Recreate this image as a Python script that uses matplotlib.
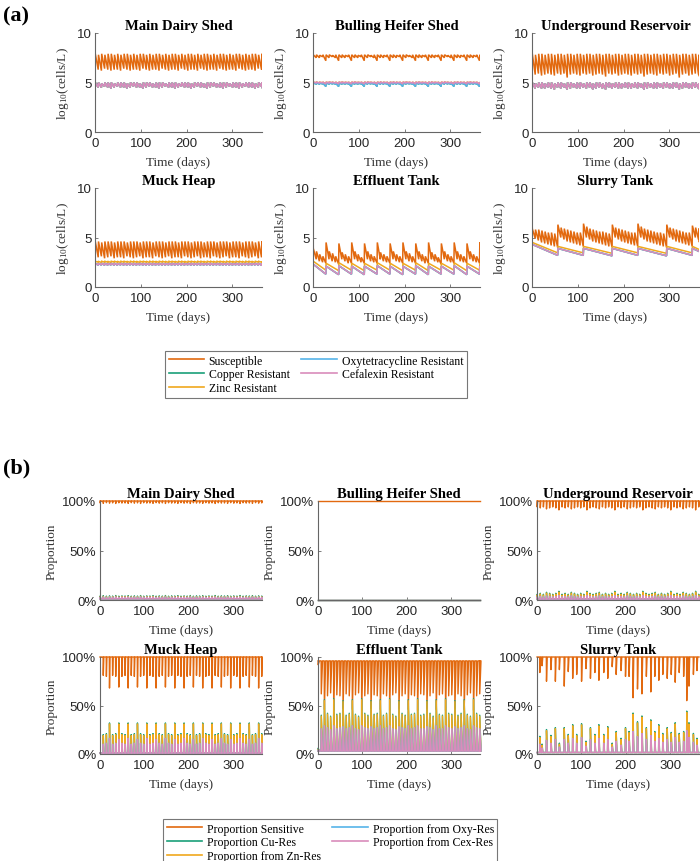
import numpy as np
import matplotlib
matplotlib.use("Agg")
import matplotlib.pyplot as plt
from matplotlib.lines import Line2D

plt.rcParams['mathtext.fontset'] = 'custom'
plt.rcParams['mathtext.rm'] = 'Liberation Serif'
plt.rcParams['mathtext.it'] = 'Liberation Serif:italic'
plt.rcParams['mathtext.bf'] = 'Liberation Serif:bold'

SERIF = 'Liberation Serif'
SANS = 'Liberation Sans'

# ---------------------------------------------------------------- data
SITES = ["Main Dairy Shed", "Bulling Heifer Shed", "Underground Reservoir",
         "Muck Heap", "Effluent Tank", "Slurry Tank"]
SERIES_A = ["Susceptible", "Copper Resistant", "Zinc Resistant",
            "Oxytetracycline Resistant", "Cefalexin Resistant"]
SERIES_B = ["Proportion Sensitive", "Proportion Cu-Res", "Proportion from Zn-Res",
            "Proportion from Oxy-Res", "Proportion from Cex-Res"]
X_TICKS = [0, 100, 200, 300]
Y_TICKS_A = [0, 5, 10]
Y_TICKS_B = [0, 50, 100]
Y_TICKLABELS_B = ["0%", "50%", "100%"]

T_WEEK = list(range(0, 365, 7))          # weekly event days (53)
T_28 = list(range(0, 365, 28))           # 4-weekly event days (14)
ST_R_DAYS = [0, 56, 112, 175, 231, 294, 350]

# ---- (a) log10 cells/L : start value, peak after each event, trough before next event
MDS_S_START = 7.6
MDS_S_PEAK = [7.9, 7.8, 7.9, 7.8, 7.9, 7.9, 7.8, 7.9, 7.8, 7.9,
              7.9, 7.8, 7.9, 7.8, 7.9, 7.9, 7.8, 7.9, 7.8, 7.9,
              7.9, 7.8, 7.9, 7.8, 7.9, 7.9, 7.8, 7.9, 7.8, 7.9,
              7.9, 7.8, 7.9, 7.8, 7.9, 7.9, 7.8, 7.9, 7.8, 7.9,
              7.9, 7.8, 7.9, 7.8, 7.9, 7.9, 7.8, 7.9, 7.8, 7.9,
              7.9, 7.8, 7.9]
MDS_S_TROUGH = [6.3, 6.2, 6.4, 6.3, 6.2, 6.3, 6.3, 6.2, 6.4, 6.3,
                6.2, 6.3, 6.3, 6.2, 6.4, 6.3, 6.2, 6.3, 6.3, 6.2,
                6.4, 6.3, 6.2, 6.3, 6.3, 6.2, 6.4, 6.3, 6.2, 6.3,
                6.3, 6.2, 6.4, 6.3, 6.2, 6.3, 6.3, 6.2, 6.4, 6.3,
                6.2, 6.3, 6.3, 6.2, 6.4, 6.3, 6.2, 6.3, 6.3, 6.2,
                6.4, 6.3, 6.4]
MDS_R_START = 5.0
MDS_R_PEAK = [5.0, 5.0, 4.9, 5.0, 5.0, 5.0, 4.9, 5.0, 5.0, 5.0,
              4.9, 5.0, 5.0, 5.0, 4.9, 5.0, 5.0, 5.0, 4.9, 5.0,
              5.0, 5.0, 4.9, 5.0, 5.0, 5.0, 4.9, 5.0, 5.0, 5.0,
              4.9, 5.0, 5.0, 5.0, 4.9, 5.0, 5.0, 5.0, 4.9, 5.0,
              5.0, 5.0, 4.9, 5.0, 5.0, 5.0, 4.9, 5.0, 5.0, 5.0,
              4.9, 5.0, 5.0]
MDS_R_TROUGH = [4.5, 4.5, 4.6, 4.5, 4.4, 4.5, 4.6, 4.5, 4.5, 4.4,
                4.5, 4.6, 4.5, 4.5, 4.4, 4.5, 4.6, 4.5, 4.5, 4.4,
                4.5, 4.6, 4.5, 4.5, 4.4, 4.5, 4.6, 4.5, 4.5, 4.4,
                4.5, 4.6, 4.5, 4.5, 4.4, 4.5, 4.6, 4.5, 4.5, 4.4,
                4.5, 4.6, 4.5, 4.5, 4.4, 4.5, 4.6, 4.5, 4.5, 4.4,
                4.5, 4.6, 4.5]

BHS_S_START = 7.8
BHS_S_PEAK = [7.8, 7.8, 7.75, 7.8, 7.8, 7.8, 7.75, 7.8, 7.8, 7.8,
              7.75, 7.8, 7.8, 7.8, 7.75, 7.8, 7.8, 7.8, 7.75, 7.8,
              7.8, 7.8, 7.75, 7.8, 7.8, 7.8, 7.75, 7.8, 7.8, 7.8,
              7.75, 7.8, 7.8, 7.8, 7.75, 7.8, 7.8, 7.8, 7.75, 7.8,
              7.8, 7.8, 7.75, 7.8, 7.8, 7.8, 7.75, 7.8, 7.8, 7.8,
              7.75, 7.8, 7.8]
BHS_S_TROUGH = [7.5, 7.5, 7.6, 7.2, 7.5, 7.6, 7.5, 7.2, 7.5, 7.5,
                7.6, 7.2, 7.5, 7.5, 7.6, 7.2, 7.5, 7.6, 7.5, 7.2,
                7.5, 7.5, 7.6, 7.2, 7.5, 7.5, 7.6, 7.2, 7.5, 7.6,
                7.5, 7.2, 7.5, 7.5, 7.6, 7.2, 7.5, 7.5, 7.6, 7.2,
                7.5, 7.6, 7.5, 7.2, 7.5, 7.5, 7.6, 7.2, 7.5, 7.5,
                7.6, 7.2, 7.5]
BHS_RU_START = 5.05
BHS_RU_PEAK = [5.05, 5.05, 5.03, 5.05, 5.05, 5.05, 5.03, 5.05, 5.05, 5.05,
               5.03, 5.05, 5.05, 5.05, 5.03, 5.05, 5.05, 5.05, 5.03, 5.05,
               5.05, 5.05, 5.03, 5.05, 5.05, 5.05, 5.03, 5.05, 5.05, 5.05,
               5.03, 5.05, 5.05, 5.05, 5.03, 5.05, 5.05, 5.05, 5.03, 5.05,
               5.05, 5.05, 5.03, 5.05, 5.05, 5.05, 5.03, 5.05, 5.05, 5.05,
               5.03, 5.05, 5.05]
BHS_RU_TROUGH = [4.95, 4.95, 4.97, 4.85, 4.95, 4.97, 4.95, 4.85, 4.95, 4.95,
                 4.97, 4.85, 4.95, 4.95, 4.97, 4.85, 4.95, 4.97, 4.95, 4.85,
                 4.95, 4.95, 4.97, 4.85, 4.95, 4.95, 4.97, 4.85, 4.95, 4.97,
                 4.95, 4.85, 4.95, 4.95, 4.97, 4.85, 4.95, 4.95, 4.97, 4.85,
                 4.95, 4.97, 4.95, 4.85, 4.95, 4.95, 4.97, 4.85, 4.95, 4.95,
                 4.97, 4.85, 4.95]
BHS_RL_START = 4.95
BHS_RL_PEAK = [4.95, 4.95, 4.93, 4.95, 4.95, 4.95, 4.93, 4.95, 4.95, 4.95,
               4.93, 4.95, 4.95, 4.95, 4.93, 4.95, 4.95, 4.95, 4.93, 4.95,
               4.95, 4.95, 4.93, 4.95, 4.95, 4.95, 4.93, 4.95, 4.95, 4.95,
               4.93, 4.95, 4.95, 4.95, 4.93, 4.95, 4.95, 4.95, 4.93, 4.95,
               4.95, 4.95, 4.93, 4.95, 4.95, 4.95, 4.93, 4.95, 4.95, 4.95,
               4.93, 4.95, 4.95]
BHS_RL_TROUGH = [4.85, 4.85, 4.87, 4.6, 4.85, 4.87, 4.85, 4.6, 4.85, 4.85,
                 4.87, 4.6, 4.85, 4.85, 4.87, 4.6, 4.85, 4.87, 4.85, 4.6,
                 4.85, 4.85, 4.87, 4.6, 4.85, 4.85, 4.87, 4.6, 4.85, 4.87,
                 4.85, 4.6, 4.85, 4.85, 4.87, 4.6, 4.85, 4.85, 4.87, 4.6,
                 4.85, 4.87, 4.85, 4.6, 4.85, 4.85, 4.87, 4.6, 4.85, 4.85,
                 4.87, 4.6, 4.85]

UR_S_START = 7.3
UR_S_PEAK = [7.9, 7.8, 7.9, 7.9, 7.8, 7.9, 7.9, 7.8, 7.9, 7.9,
             7.8, 7.9, 7.9, 7.8, 7.9, 7.9, 7.8, 7.9, 7.9, 7.8,
             7.9, 7.9, 7.8, 7.9, 7.9, 7.8, 7.9, 7.9, 7.8, 7.9,
             7.9, 7.8, 7.9, 7.9, 7.8, 7.9, 7.9, 7.8, 7.9, 7.9,
             7.8, 7.9, 7.9, 7.8, 7.9, 7.9, 7.8, 7.9, 7.9, 7.8,
             7.9, 7.9, 7.8]
UR_S_TROUGH = [5.8, 5.9, 5.7, 5.8, 5.9, 5.8, 5.7, 5.9, 5.8, 5.9,
               5.5, 5.8, 5.9, 5.8, 5.7, 5.9, 5.8, 5.9, 5.7, 5.8,
               5.9, 5.8, 5.6, 5.9, 5.8, 5.9, 5.7, 5.8, 5.9, 5.8,
               5.7, 5.9, 5.8, 5.9, 5.6, 5.8, 5.9, 5.8, 5.7, 5.9,
               5.8, 5.9, 5.7, 5.8, 5.9, 5.5, 5.8, 5.9, 5.7, 5.8,
               5.9, 5.8, 5.7]
UR_R_START = 4.9
UR_R_PEAK = [5.0, 4.9, 5.0, 5.0, 4.9, 5.0, 5.0, 4.9, 5.0, 5.0,
             4.9, 5.0, 5.0, 4.9, 5.0, 5.0, 4.9, 5.0, 5.0, 4.9,
             5.0, 5.0, 4.9, 5.0, 5.0, 4.9, 5.0, 5.0, 4.9, 5.0,
             5.0, 4.9, 5.0, 5.0, 4.9, 5.0, 5.0, 4.9, 5.0, 5.0,
             4.9, 5.0, 5.0, 4.9, 5.0, 5.0, 4.9, 5.0, 5.0, 4.9,
             5.0, 5.0, 4.9]
UR_R_TROUGH = [4.4, 4.5, 4.4, 4.4, 4.5, 4.4, 4.3, 4.5, 4.4, 4.5,
               4.3, 4.4, 4.5, 4.4, 4.4, 4.5, 4.4, 4.5, 4.3, 4.4,
               4.5, 4.4, 4.3, 4.5, 4.4, 4.5, 4.4, 4.4, 4.5, 4.4,
               4.4, 4.5, 4.4, 4.5, 4.3, 4.4, 4.5, 4.4, 4.4, 4.5,
               4.4, 4.5, 4.4, 4.4, 4.5, 4.3, 4.4, 4.5, 4.4, 4.4,
               4.5, 4.4, 4.4]

MH_S_START = 5.0
MH_S_PEAK = [4.6, 4.6, 4.5, 4.6, 4.6, 4.6, 4.5, 4.6, 4.6, 4.6,
             4.5, 4.6, 4.6, 4.6, 4.5, 4.6, 4.6, 4.6, 4.5, 4.6,
             4.6, 4.6, 4.5, 4.6, 4.6, 4.6, 4.5, 4.6, 4.6, 4.6,
             4.5, 4.6, 4.6, 4.6, 4.5, 4.6, 4.6, 4.6, 4.5, 4.6,
             4.6, 4.6, 4.5, 4.6, 4.6, 4.6, 4.5, 4.6, 4.6, 4.6,
             4.5, 4.6, 4.6]
MH_S_TROUGH = [3.0, 3.1, 2.9, 3.0, 3.1, 2.9, 3.0, 3.0, 2.9, 3.1,
               3.0, 2.9, 3.0, 3.1, 2.9, 3.0, 3.0, 2.9, 3.1, 3.0,
               2.9, 3.0, 3.1, 2.9, 3.0, 3.0, 2.9, 3.1, 3.0, 2.9,
               3.0, 3.1, 2.9, 3.0, 3.0, 2.9, 3.1, 3.0, 2.9, 3.0,
               3.1, 2.9, 3.0, 3.0, 2.9, 3.1, 3.0, 2.9, 3.0, 3.1,
               2.9, 3.0, 3.1]
MH_ZN_START = 2.6
MH_ZN_PEAK = [2.6, 2.58, 2.6, 2.6, 2.58, 2.6, 2.6, 2.58, 2.6, 2.6,
              2.58, 2.6, 2.6, 2.58, 2.6, 2.6, 2.58, 2.6, 2.6, 2.58,
              2.6, 2.6, 2.58, 2.6, 2.6, 2.58, 2.6, 2.6, 2.58, 2.6,
              2.6, 2.58, 2.6, 2.6, 2.58, 2.6, 2.6, 2.58, 2.6, 2.6,
              2.58, 2.6, 2.6, 2.58, 2.6, 2.6, 2.58, 2.6, 2.6, 2.58,
              2.6, 2.6, 2.58]
MH_ZN_TROUGH = [2.5, 2.48, 2.5, 2.5, 2.48, 2.5, 2.5, 2.48, 2.5, 2.5,
                2.48, 2.5, 2.5, 2.48, 2.5, 2.5, 2.48, 2.5, 2.5, 2.48,
                2.5, 2.5, 2.48, 2.5, 2.5, 2.48, 2.5, 2.5, 2.48, 2.5,
                2.5, 2.48, 2.5, 2.5, 2.48, 2.5, 2.5, 2.48, 2.5, 2.5,
                2.48, 2.5, 2.5, 2.48, 2.5, 2.5, 2.48, 2.5, 2.5, 2.48,
                2.5, 2.5, 2.48]
MH_R_START = 2.4
MH_R_PEAK = [2.4, 2.38, 2.4, 2.4, 2.38, 2.4, 2.4, 2.38, 2.4, 2.4,
             2.38, 2.4, 2.4, 2.38, 2.4, 2.4, 2.38, 2.4, 2.4, 2.38,
             2.4, 2.4, 2.38, 2.4, 2.4, 2.38, 2.4, 2.4, 2.38, 2.4,
             2.4, 2.38, 2.4, 2.4, 2.38, 2.4, 2.4, 2.38, 2.4, 2.4,
             2.38, 2.4, 2.4, 2.38, 2.4, 2.4, 2.38, 2.4, 2.4, 2.38,
             2.4, 2.4, 2.38]
MH_R_TROUGH = [2.2, 2.22, 2.2, 2.2, 2.22, 2.2, 2.2, 2.22, 2.2, 2.2,
               2.22, 2.2, 2.2, 2.22, 2.2, 2.2, 2.22, 2.2, 2.2, 2.22,
               2.2, 2.2, 2.22, 2.2, 2.2, 2.22, 2.2, 2.2, 2.22, 2.2,
               2.2, 2.22, 2.2, 2.2, 2.22, 2.2, 2.2, 2.22, 2.2, 2.2,
               2.22, 2.2, 2.2, 2.22, 2.2, 2.2, 2.22, 2.2, 2.2, 2.22,
               2.2, 2.2, 2.22]

ET_S_START = 6.5
ET_S_PEAK = [3.9, 3.6, 3.3, 3.1, 4.5, 3.6, 3.4, 3.1, 4.4, 3.5,
             3.3, 3.1, 4.5, 3.6, 3.3, 3.0, 4.4, 3.6, 3.3, 3.1,
             4.5, 3.5, 3.3, 3.1, 4.4, 3.6, 3.3, 3.1, 4.5, 3.6,
             3.4, 3.1, 4.4, 3.6, 3.3, 3.1, 4.5, 3.5, 3.3, 3.0,
             4.4, 3.6, 3.3, 3.1, 4.5, 3.6, 3.3, 3.1, 4.4, 3.6,
             3.3, 3.1, 4.5]
ET_S_TROUGH = [2.8, 2.6, 2.5, 2.4, 2.8, 2.6, 2.5, 2.3, 2.8, 2.6,
               2.4, 2.4, 2.8, 2.6, 2.5, 2.4, 2.8, 2.6, 2.5, 2.4,
               2.8, 2.6, 2.5, 2.4, 2.8, 2.6, 2.5, 2.4, 2.8, 2.6,
               2.5, 2.4, 2.8, 2.6, 2.4, 2.4, 2.8, 2.6, 2.5, 2.3,
               2.8, 2.6, 2.5, 2.4, 2.8, 2.6, 2.5, 2.4, 2.8, 2.6,
               2.5, 2.4, 2.8]
ET_ZN_START = 2.9
ET_ZN_PEAK = [2.6, 2.4, 2.45, 2.4, 2.4, 2.45, 2.4, 2.4, 2.45, 2.4, 2.4, 2.45, 2.4, 2.4]
ET_ZN_TROUGH = [1.7, 1.65, 1.7, 1.65, 1.7, 1.7, 1.65, 1.7, 1.65, 1.7, 1.7, 1.65, 1.7, 2.3]
ET_R_START = 4.0
ET_R_PEAK = [2.3, 2.1, 2.15, 2.1, 2.1, 2.15, 2.1, 2.1, 2.15, 2.1, 2.1, 2.15, 2.1, 2.1]
ET_R_TROUGH = [1.3, 1.25, 1.3, 1.25, 1.3, 1.3, 1.25, 1.3, 1.25, 1.3, 1.3, 1.25, 1.3, 2.0]

ST_S_START = 7.2
ST_S_PEAK = [5.9, 5.8, 5.8, 5.7, 5.6, 5.5, 5.5, 5.4,
             6.3, 6.0, 5.9, 5.8, 5.7, 5.6, 5.5, 5.5,
             6.4, 6.1, 5.9, 5.8, 5.7, 5.6, 5.6, 5.5, 5.4,
             6.3, 6.0, 5.9, 5.8, 5.7, 5.6, 5.5, 5.5,
             6.4, 6.1, 5.9, 5.8, 5.7, 5.6, 5.5, 5.5, 5.4,
             6.3, 6.0, 5.9, 5.8, 5.7, 5.6, 5.5, 5.5,
             6.2, 6.0, 5.9]
ST_S_TROUGH = [4.9, 4.7, 4.5, 4.4, 4.3, 4.2, 4.1, 4.0,
               5.0, 4.8, 4.6, 4.5, 4.4, 4.3, 4.2, 4.1,
               5.0, 4.8, 4.6, 4.5, 4.4, 4.3, 4.2, 4.1, 4.0,
               5.0, 4.8, 4.6, 4.5, 4.4, 4.3, 4.2, 4.1,
               5.0, 4.8, 4.6, 4.5, 4.4, 4.3, 4.2, 4.1, 4.0,
               5.0, 4.8, 4.6, 4.5, 4.4, 4.3, 4.2, 4.1,
               5.0, 4.8, 4.6]
ST_ZN_START = 4.7
ST_ZN_PEAK = [4.5, 4.1, 4.1, 4.1, 4.1, 4.1, 4.1]
ST_ZN_TROUGH = [3.45, 3.45, 3.4, 3.45, 3.4, 3.45, 3.8]
ST_R_START = 4.6
ST_R_PEAK = [4.3, 3.9, 3.9, 3.9, 3.9, 3.9, 3.9]
ST_R_TROUGH = [3.2, 3.2, 3.15, 3.2, 3.15, 3.2, 3.6]

# ---- (b) proportions (%) : baseline and extreme value at each event
MDS_PS_BASE = 100.0
MDS_PR_BASE = 1.2
MDS_PS_EXT = [98.0, 97.6, 98.3, 97.8, 98.1, 97.5, 98.2, 97.9, 98.0, 97.6,
              98.3, 97.8, 98.1, 97.5, 98.2, 97.9, 98.0, 97.6, 98.3, 97.8,
              98.1, 97.5, 98.2, 97.9, 98.0, 97.6, 98.3, 97.8, 98.1, 97.5,
              98.2, 97.9, 98.0, 97.6, 98.3, 97.8, 98.1, 97.5, 98.2, 97.9,
              98.0, 97.6, 98.3, 97.8, 98.1, 97.5, 98.2, 97.9, 98.0, 97.6,
              98.3, 97.8, 98.1]
MDS_PZN_EXT = [3.4, 3.7, 3.2, 3.5, 3.3, 3.8, 3.2, 3.5, 3.4, 3.7,
               3.2, 3.5, 3.3, 3.8, 3.2, 3.5, 3.4, 3.7, 3.2, 3.5,
               3.3, 3.8, 3.2, 3.5, 3.4, 3.7, 3.2, 3.5, 3.3, 3.8,
               3.2, 3.5, 3.4, 3.7, 3.2, 3.5, 3.3, 3.8, 3.2, 3.5,
               3.4, 3.7, 3.2, 3.5, 3.3, 3.8, 3.2, 3.5, 3.4, 3.7,
               3.2, 3.5, 3.3]
MDS_PCU_EXT = [4.1, 4.4, 3.9, 4.2, 4.0, 4.5, 3.9, 4.2, 4.1, 4.4,
               3.9, 4.2, 4.0, 4.5, 3.9, 4.2, 4.1, 4.4, 3.9, 4.2,
               4.0, 4.5, 3.9, 4.2, 4.1, 4.4, 3.9, 4.2, 4.0, 4.5,
               3.9, 4.2, 4.1, 4.4, 3.9, 4.2, 4.0, 4.5, 3.9, 4.2,
               4.1, 4.4, 3.9, 4.2, 4.0, 4.5, 3.9, 4.2, 4.1, 4.4,
               3.9, 4.2, 4.0]
MDS_PCEX_EXT = [2.7, 2.9, 2.6, 2.8, 2.7, 3.0, 2.6, 2.8, 2.7, 2.9,
                2.6, 2.8, 2.7, 3.0, 2.6, 2.8, 2.7, 2.9, 2.6, 2.8,
                2.7, 3.0, 2.6, 2.8, 2.7, 2.9, 2.6, 2.8, 2.7, 3.0,
                2.6, 2.8, 2.7, 2.9, 2.6, 2.8, 2.7, 3.0, 2.6, 2.8,
                2.7, 2.9, 2.6, 2.8, 2.7, 3.0, 2.6, 2.8, 2.7, 2.9,
                2.6, 2.8, 2.7]

BHS_P_DAYS = [0, 365]
BHS_PS = [99.8, 99.8]
BHS_PR = [0.3, 0.3]

UR_PS_BASE = 100.0
UR_PR_BASE = 1.0
UR_PS_EXT = [94, 93, 94, 92, 93, 94, 93, 91, 94, 93,
             94, 92, 93, 94, 93, 94, 91, 93, 94, 93,
             92, 94, 93, 94, 93, 91, 94, 93, 94, 92,
             93, 94, 93, 94, 91, 93, 94, 93, 92, 94,
             93, 94, 93, 91, 94, 93, 94, 92, 93, 94,
             93, 91, 94]
UR_PZN_EXT = [5.0, 6.0, 5.0, 7.0, 6.0, 5.0, 6.0, 8.0, 5.0, 6.0,
              5.0, 7.0, 6.0, 5.0, 6.0, 5.0, 8.0, 6.0, 5.0, 6.0,
              7.0, 5.0, 6.0, 5.0, 6.0, 8.0, 5.0, 6.0, 5.0, 7.0,
              6.0, 5.0, 6.0, 5.0, 8.0, 6.0, 5.0, 6.0, 7.0, 5.0,
              6.0, 5.0, 6.0, 8.0, 5.0, 6.0, 5.0, 7.0, 6.0, 5.0,
              6.0, 8.0, 5.0]
UR_PCU_EXT = [5.8, 6.8, 5.8, 7.8, 6.8, 5.8, 6.8, 8.8, 5.8, 6.8,
              5.8, 7.8, 6.8, 5.8, 6.8, 5.8, 8.8, 6.8, 5.8, 6.8,
              7.8, 5.8, 6.8, 5.8, 6.8, 8.8, 5.8, 6.8, 5.8, 7.8,
              6.8, 5.8, 6.8, 5.8, 8.8, 6.8, 5.8, 6.8, 7.8, 5.8,
              6.8, 5.8, 6.8, 8.8, 5.8, 6.8, 5.8, 7.8, 6.8, 5.8,
              6.8, 8.8, 5.8]
UR_PCEX_EXT = [3.2, 3.6, 3.2, 4.0, 3.6, 3.2, 3.6, 4.4, 3.2, 3.6,
               3.2, 4.0, 3.6, 3.2, 3.6, 3.2, 4.4, 3.6, 3.2, 3.6,
               4.0, 3.2, 3.6, 3.2, 3.6, 4.4, 3.2, 3.6, 3.2, 4.0,
               3.6, 3.2, 3.6, 3.2, 4.4, 3.6, 3.2, 3.6, 4.0, 3.2,
               3.6, 3.2, 3.6, 4.4, 3.2, 3.6, 3.2, 4.0, 3.6, 3.2,
               3.6, 4.4, 3.2]

MH_PS_BASE = 100.0
MH_PR_BASE = 1.0
MH_PS_EXT = [100, 81, 80, 68, 81, 80, 69, 80, 81, 68,
             81, 80, 69, 80, 81, 68, 81, 80, 68, 80,
             81, 69, 80, 81, 68, 81, 80, 68, 80, 81,
             69, 81, 80, 68, 80, 81, 68, 81, 80, 69,
             80, 81, 68, 81, 80, 68, 80, 81, 69, 81,
             80, 68, 80]
MH_PZN_EXT = [1, 19, 20, 31, 19, 20, 31, 20, 19, 31,
              19, 20, 31, 20, 19, 31, 19, 20, 31, 20,
              19, 31, 20, 19, 31, 19, 20, 31, 20, 19,
              31, 19, 20, 31, 20, 19, 31, 19, 20, 31,
              20, 19, 31, 19, 20, 31, 20, 19, 31, 19,
              20, 31, 20]
MH_PCU_EXT = [1, 20, 21, 32, 20, 21, 32, 21, 20, 32,
              20, 21, 32, 21, 20, 32, 20, 21, 32, 21,
              20, 32, 21, 20, 32, 20, 21, 32, 21, 20,
              32, 20, 21, 32, 21, 20, 32, 20, 21, 32,
              21, 20, 32, 20, 21, 32, 21, 20, 32, 20,
              21, 32, 21]
MH_PCEX_EXT = [1, 10, 11, 16, 10, 11, 15, 11, 10, 16,
               10, 11, 15, 11, 10, 16, 10, 11, 15, 11,
               10, 16, 11, 10, 15, 10, 11, 16, 11, 10,
               15, 10, 11, 16, 11, 10, 15, 10, 11, 16,
               11, 10, 15, 10, 11, 16, 11, 10, 15, 10,
               11, 16, 11]

ET_PS_BASE = 96.0
ET_PR_BASE = 3.0
ET_PS_EXT = [92, 62, 46, 60, 63, 45, 61, 60, 47, 62,
             60, 46, 61, 63, 45, 60, 62, 47, 61, 60,
             46, 62, 60, 45, 61, 63, 47, 60, 62, 46,
             61, 60, 45, 62, 61, 47, 60, 63, 46, 61,
             62, 45, 60, 61, 47, 62, 60, 46, 61, 63,
             45, 60, 62]
ET_PZN_EXT = [5, 39, 55, 41, 38, 56, 40, 41, 54, 39,
              41, 55, 40, 38, 56, 41, 39, 54, 40, 41,
              55, 39, 41, 56, 40, 38, 54, 41, 39, 55,
              40, 41, 56, 39, 40, 54, 41, 38, 55, 40,
              39, 56, 41, 40, 54, 39, 41, 55, 40, 38,
              56, 41, 39]
ET_PCU_EXT = [6, 40, 56, 42, 39, 57, 41, 42, 55, 40,
              42, 56, 41, 39, 57, 42, 40, 55, 41, 42,
              56, 40, 42, 57, 41, 39, 55, 42, 40, 56,
              41, 42, 57, 40, 41, 55, 42, 39, 56, 41,
              40, 57, 42, 41, 55, 40, 42, 56, 41, 39,
              57, 42, 40]
ET_PCEX_EXT = [4, 26, 29, 27, 25, 29, 26, 27, 28, 26,
               27, 29, 26, 25, 29, 27, 26, 28, 26, 27,
               29, 26, 27, 29, 26, 25, 28, 27, 26, 29,
               26, 27, 29, 26, 26, 28, 27, 25, 29, 26,
               26, 29, 27, 26, 28, 26, 27, 29, 26, 25,
               29, 27, 26]

ST_PS_BASE = 100.0
ST_PR_BASE = 1.5
ST_P_DAYS = [6, 11, 21, 31, 41, 50, 61, 70, 80, 89,
             100, 110, 120, 130, 139, 150, 159, 169, 178, 189,
             199, 207, 216, 226, 236, 246, 256, 265, 274, 283,
             293, 302, 311, 320, 330, 337, 342, 352, 360]
ST_PS_EXT = [84, 91, 75, 87, 75, 87, 70, 85, 78, 82,
             75, 88, 78, 84, 76, 84, 78, 90, 82, 86,
             80, 80, 58, 67, 62, 80, 64, 80, 76, 82,
             78, 82, 74, 84, 80, 55, 70, 82, 86]
ST_PZN_EXT = [17, 9, 24, 18, 26, 10, 26, 19, 29, 19,
              30, 12, 26, 19, 29, 19, 27, 10, 22, 15,
              26, 22, 41, 32, 38, 26, 34, 22, 29, 20,
              26, 21, 31, 20, 22, 43, 31, 20, 15]
ST_PCU_EXT = [18.2, 10.2, 25.2, 19.2, 27.2, 11.2, 27.2, 20.2, 30.2, 20.2,
              31.2, 13.2, 27.2, 20.2, 30.2, 20.2, 28.2, 11.2, 23.2, 16.2,
              27.2, 23.2, 42.2, 33.2, 39.2, 27.2, 35.2, 23.2, 30.2, 21.2,
              27.2, 22.2, 32.2, 21.2, 23.2, 44.2, 32.2, 21.2, 16.2]
ST_PCEX_EXT = [10, 6, 14, 11, 15, 7, 15, 11, 16, 11,
               17, 8, 15, 11, 16, 11, 15, 7, 13, 9,
               15, 13, 23, 18, 21, 15, 19, 13, 16, 12,
               15, 12, 17, 12, 13, 24, 17, 12, 9]

COLORS = ['#E2690F', '#1AA079', '#F0A81E', '#56B4E9', '#D98CBB']


# ---------------------------------------------------------------- helpers
def sawtooth(days, start, peaks, troughs, end=365.0, rise=0.6):
    t, v = [days[0]], [start]
    n = min(len(days), len(peaks), len(troughs))
    for k in range(n):
        t.append(days[k] + rise); v.append(peaks[k])
        t.append(days[k + 1] if k + 1 < len(days) else end); v.append(troughs[k])
    return np.array(t), np.array(v)


def spikes(days, base, ext, up=0.4, down=1.6, end=365.0):
    t, v = [0.0], [base]
    for d, e in zip(days, ext):
        t += [d, d + up, d + down]
        v += [base, e, base]
    t.append(end); v.append(base)
    return np.array(t), np.array(v)


fig = plt.figure(figsize=(7.0, 8.62), dpi=100)


def add_ax(left, top, width, bottom):
    return fig.add_axes([left / 700, 1 - bottom / 862, width / 700, (bottom - top) / 862])


def style(ax, title, ylabel, yticks, yticklabels=None, ylim=(0, 10), ylabelpad=3):
    ax.set_xlim(0, 365)
    ax.set_ylim(*ylim)
    for s in ['top', 'right']:
        ax.spines[s].set_visible(False)
    for s in ['left', 'bottom']:
        ax.spines[s].set_color('#666666')
        ax.spines[s].set_linewidth(0.8)
    ax.set_xticks(X_TICKS)
    ax.set_yticks(yticks)
    if yticklabels is not None:
        ax.set_yticklabels(yticklabels)
    ax.tick_params(direction='in', length=2.5, width=0.6, colors='#666666',
                   labelcolor='#262626', labelsize=9.5)
    ax.tick_params(axis='x', pad=3.5)
    ax.tick_params(axis='y', pad=2.5)
    for lab in ax.get_xticklabels() + ax.get_yticklabels():
        lab.set_fontfamily(SANS)
    ax.set_title(title, fontfamily=SERIF, fontweight='bold', fontsize=10.5, pad=3)
    ax.set_xlabel('Time (days)', fontfamily=SERIF, fontsize=9.5, color='#333333', labelpad=5)
    ax.set_ylabel(ylabel, fontfamily=SERIF, fontsize=9.5, color='#333333', labelpad=ylabelpad)
    ax.patch.set_alpha(0)


# ---------------------------------------------------------------- panel (a)
A_LEFT = [95, 313, 532]
A_ROWS = [(34, 133), (189, 288)]
A_W = 167

mds_s = sawtooth(T_WEEK, MDS_S_START, MDS_S_PEAK, MDS_S_TROUGH)
mds_r = sawtooth(T_WEEK, MDS_R_START, MDS_R_PEAK, MDS_R_TROUGH)
bhs_s = sawtooth(T_WEEK, BHS_S_START, BHS_S_PEAK, BHS_S_TROUGH)
bhs_ru = sawtooth(T_WEEK, BHS_RU_START, BHS_RU_PEAK, BHS_RU_TROUGH)
bhs_rl = sawtooth(T_WEEK, BHS_RL_START, BHS_RL_PEAK, BHS_RL_TROUGH)
ur_s = sawtooth(T_WEEK, UR_S_START, UR_S_PEAK, UR_S_TROUGH)
ur_r = sawtooth(T_WEEK, UR_R_START, UR_R_PEAK, UR_R_TROUGH)
mh_s = sawtooth(T_WEEK, MH_S_START, MH_S_PEAK, MH_S_TROUGH)
mh_zn = sawtooth(T_WEEK, MH_ZN_START, MH_ZN_PEAK, MH_ZN_TROUGH)
mh_r = sawtooth(T_WEEK, MH_R_START, MH_R_PEAK, MH_R_TROUGH)
et_s = sawtooth(T_WEEK, ET_S_START, ET_S_PEAK, ET_S_TROUGH)
et_zn = sawtooth(T_28, ET_ZN_START, ET_ZN_PEAK, ET_ZN_TROUGH)
et_r = sawtooth(T_28, ET_R_START, ET_R_PEAK, ET_R_TROUGH)
st_s = sawtooth(T_WEEK, ST_S_START, ST_S_PEAK, ST_S_TROUGH)
st_zn = sawtooth(ST_R_DAYS, ST_ZN_START, ST_ZN_PEAK, ST_ZN_TROUGH)
st_r = sawtooth(ST_R_DAYS, ST_R_START, ST_R_PEAK, ST_R_TROUGH)

A_DATA = [
    [mds_s, mds_r, mds_r, mds_r, mds_r],
    [bhs_s, bhs_rl, bhs_ru, bhs_rl, bhs_ru],
    [ur_s, ur_r, ur_r, ur_r, ur_r],
    [mh_s, mh_r, mh_zn, mh_r, mh_r],
    [et_s, et_r, et_zn, et_r, et_r],
    [st_s, st_r, st_zn, st_r, st_r],
]

for i, site in enumerate(SITES):
    top, bot = A_ROWS[i // 3]
    ax = add_ax(A_LEFT[i % 3], top, A_W, bot)
    for (t, v), c in zip(A_DATA[i], COLORS):
        ax.plot(t, v, color=c, lw=1.1, solid_joinstyle='miter')
    style(ax, site, 'log$_{10}$(cells/L)', Y_TICKS_A, ylabelpad=4)

# ---------------------------------------------------------------- panel (b)
B_LEFT = [100, 318, 537]
B_ROWS = [(502, 601), (658, 755)]
B_W = 162

B_DATA = [
    [spikes(T_WEEK, MDS_PS_BASE, MDS_PS_EXT),
     spikes(T_WEEK, MDS_PR_BASE, MDS_PCU_EXT),
     spikes(T_WEEK, MDS_PR_BASE, MDS_PZN_EXT),
     spikes(T_WEEK, MDS_PR_BASE, MDS_PCEX_EXT),
     spikes(T_WEEK, MDS_PR_BASE, MDS_PCEX_EXT)],
    [(np.array(BHS_P_DAYS), np.array(BHS_PS)),
     (np.array(BHS_P_DAYS), np.array(BHS_PR)),
     (np.array(BHS_P_DAYS), np.array(BHS_PR)),
     (np.array(BHS_P_DAYS), np.array(BHS_PR)),
     (np.array(BHS_P_DAYS), np.array(BHS_PR))],
    [spikes(T_WEEK, UR_PS_BASE, UR_PS_EXT),
     spikes(T_WEEK, UR_PR_BASE, UR_PCU_EXT),
     spikes(T_WEEK, UR_PR_BASE, UR_PZN_EXT),
     spikes(T_WEEK, UR_PR_BASE, UR_PCEX_EXT),
     spikes(T_WEEK, UR_PR_BASE, UR_PCEX_EXT)],
    [spikes(T_WEEK, MH_PS_BASE, MH_PS_EXT),
     spikes(T_WEEK, MH_PR_BASE, MH_PCU_EXT),
     spikes(T_WEEK, MH_PR_BASE, MH_PZN_EXT),
     spikes(T_WEEK, MH_PR_BASE, MH_PCEX_EXT),
     spikes(T_WEEK, MH_PR_BASE, MH_PCEX_EXT)],
    [spikes(T_WEEK, ET_PS_BASE, ET_PS_EXT, down=3.2),
     spikes(T_WEEK, ET_PR_BASE, ET_PCU_EXT, down=3.2),
     spikes(T_WEEK, ET_PR_BASE, ET_PZN_EXT, down=3.2),
     spikes(T_WEEK, ET_PR_BASE, ET_PCEX_EXT, down=3.2),
     spikes(T_WEEK, ET_PR_BASE, ET_PCEX_EXT, down=3.2)],
    [spikes(ST_P_DAYS, ST_PS_BASE, ST_PS_EXT, down=2.0),
     spikes(ST_P_DAYS, ST_PR_BASE, ST_PCU_EXT, down=2.0),
     spikes(ST_P_DAYS, ST_PR_BASE, ST_PZN_EXT, down=2.0),
     spikes(ST_P_DAYS, ST_PR_BASE, ST_PCEX_EXT, down=2.0),
     spikes(ST_P_DAYS, ST_PR_BASE, ST_PCEX_EXT, down=2.0)],
]

for i, site in enumerate(SITES):
    top, bot = B_ROWS[i // 3]
    ax = add_ax(B_LEFT[i % 3], top, B_W, bot)
    for (t, v), c in zip(B_DATA[i], COLORS):
        ax.plot(t, v, color=c, lw=1.0, clip_on=False)
    style(ax, site, 'Proportion', Y_TICKS_B, Y_TICKLABELS_B, ylim=(0, 100), ylabelpad=3.5)

# ---------------------------------------------------------------- labels & legends
fig.text(0.004, 1 - 16 / 862, '(a)', fontfamily=SERIF, fontweight='bold', fontsize=16, va='center')
fig.text(0.004, 1 - 468 / 862, '(b)', fontfamily=SERIF, fontweight='bold', fontsize=16, va='center')

leg_kw = dict(loc='upper left', ncol=2, frameon=True, fancybox=False, edgecolor='#555555',
              prop={'family': SERIF, 'size': 8.5}, handlelength=3.0, handletextpad=0.4,
              columnspacing=1.0, labelspacing=0.15, borderpad=0.3, borderaxespad=0)
hA = [Line2D([], [], color=c, lw=1.2) for c in COLORS]
lgA = fig.legend(hA, SERIES_A, bbox_to_anchor=(165 / 700, 1 - 352 / 862), **leg_kw)
lgA.get_frame().set_linewidth(0.8)
hB = [Line2D([], [], color=c, lw=1.2) for c in COLORS]
lgB = fig.legend(hB, SERIES_B, bbox_to_anchor=(163 / 700, 1 - 820 / 862), **leg_kw)
lgB.get_frame().set_linewidth(0.8)

fig.savefig('out.png', dpi=100)
